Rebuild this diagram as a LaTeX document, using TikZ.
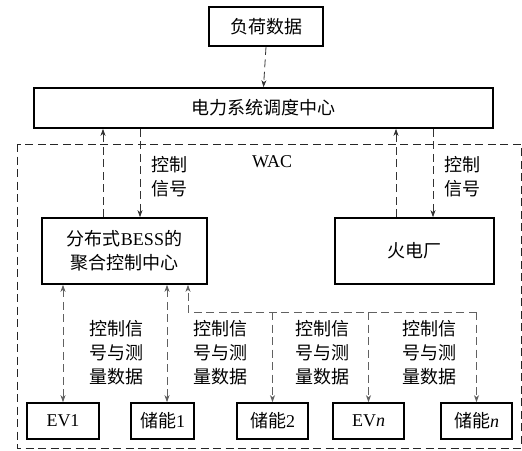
\documentclass[tikz,border=0pt]{standalone}
\usepackage{fontspec}
\setmainfont{Liberation Serif}
\newfontfamily\cjk{Noto Sans CJK SC}
\usetikzlibrary{arrows.meta,calc}
\begin{document}
\begin{tikzpicture}[x=1pt,y=-1pt,
  box/.style={draw=black,line width=1.6pt,inner sep=0pt,align=center,font=\fontsize{18}{24}\selectfont},
  conn/.style={draw=black!80,line width=0.8pt,dash pattern=on 8pt off 4.5pt},
  gconn/.style={draw=black!62,line width=0.8pt,dash pattern=on 8pt off 4.5pt},
  tip/.style={-{Stealth[length=7pt,width=5pt,inset=2pt]}},
  dtip/.style={{Stealth[length=7pt,width=5pt,inset=2pt]}-{Stealth[length=7pt,width=5pt,inset=2pt]}},
  lbl/.style={align=left,inner sep=0pt,font=\fontsize{18}{24}\selectfont\cjk}
]
\useasboundingbox (0,0) rectangle (522,450);
% WAC region
\draw[conn,draw=black!85] (17,144) rectangle (521,448);
\node[inner sep=0pt,font=\fontsize{18}{22}\selectfont] (wac) at (272,162) {WAC};
% boxes
\node[box,minimum width=114pt,minimum height=39pt] (load) at (266,26.5) {\cjk 负荷数据};
\node[box,minimum width=459pt,minimum height=40pt] (disp) at (263.5,108) {\cjk 电力系统调度中心};
\node[box,minimum width=165pt,minimum height=66pt] (bess) at (124.5,251) {{\cjk 分布式}BESS{\cjk 的}\\{\cjk 聚合控制中心}};
\node[box,minimum width=159pt,minimum height=66pt] (therm) at (414.5,251) {\cjk 火电厂};
\node[box,minimum width=72pt,minimum height=36pt] (ev1) at (63,421) {EV1};
\node[box,minimum width=63pt,minimum height=36pt] (s1) at (162.5,421) {{\cjk 储能}1};
\node[box,minimum width=71pt,minimum height=36pt] (s2) at (272.5,421) {{\cjk 储能}2};
\node[box,minimum width=71pt,minimum height=36pt] (evn) at (368.5,421) {EV\textit{n}};
\node[box,minimum width=71pt,minimum height=36pt] (sn) at (476.5,421) {{\cjk 储能}\textit{n}};
% x positions
\coordinate (xa) at (103,0);
\coordinate (xb) at (140,0);
\coordinate (xc) at (396,0);
\coordinate (xd) at (433,0);
\coordinate (xe) at (167,0);
\coordinate (bus) at (188,312);
\coordinate (busr) at (sn.north |- bus);
% top connectors
\draw[conn,tip] (load.south) -- (disp.north);
\draw[conn,tip] (bess.north -| xa) -- (disp.south -| xa);
\draw[conn,tip] (disp.south -| xb) -- (bess.north -| xb);
\draw[conn,tip] (therm.north -| xc) -- (disp.south -| xc);
\draw[conn,tip] (disp.south -| xd) -- (therm.north -| xd);
% bottom connectors
\draw[gconn,dtip] (bess.south -| ev1.north) -- (ev1.north);
\draw[gconn,dtip] (bess.south -| xe) -- (s1.north -| xe);
\draw[gconn,tip] (busr) -- (bus) -- (bess.south -| bus);
\draw[gconn,tip] (bus -| s2.north) -- (s2.north);
\draw[gconn,tip] (bus -| evn.north) -- (evn.north);
\draw[gconn,tip] (busr) -- (sn.north);
% labels
\node[lbl] (l1) at (169,177) {控制\\信号};
\node[lbl] (l2) at (462,177) {控制\\信号};
\node[lbl] (l3) at (116,353) {控制信\\号与测\\量数据};
\node[lbl] (l4) at (220,353) {控制信\\号与测\\量数据};
\node[lbl] (l5) at (322,353) {控制信\\号与测\\量数据};
\node[lbl] (l6) at (429,353) {控制信\\号与测\\量数据};
\end{tikzpicture}
\end{document}
